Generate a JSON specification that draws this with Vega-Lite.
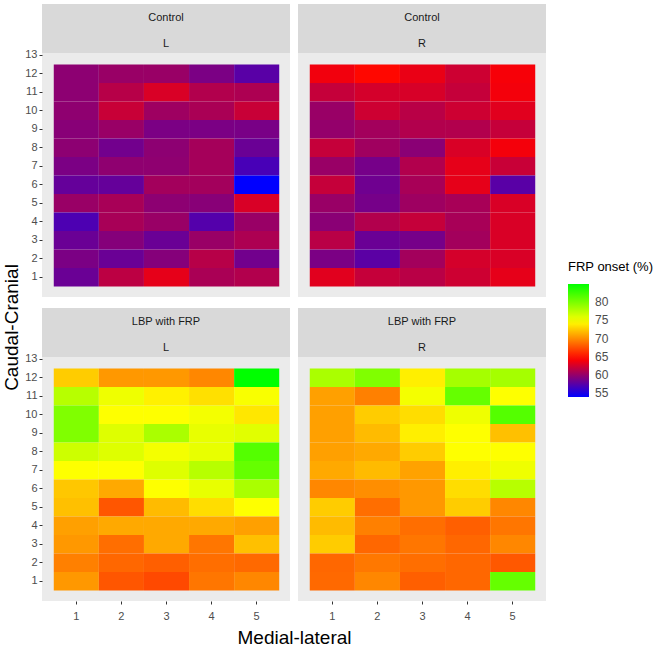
{
  "$schema": "https://vega.github.io/schema/vega-lite/v6.json",
  "padding": {"left": 2, "top": 4, "right": 0, "bottom": 0},
  "background": "white",
  "config": {
    "font": "Liberation Sans",
    "view": {"stroke": null},
    "axis": {"domain": false, "gridColor": "white", "tickColor": "#333333", "labelColor": "#4D4D4D", "labelFontSize": 11, "labelFont": "Liberation Sans", "labelOverlap": false, "titleFont": "Liberation Sans", "titleFontWeight": "normal", "titleColor": "#000000", "titleFontSize": 19}
  },
  "datasets": {
    "tiles": [
      {"group":"Control","side":"L","ml":1,"cc":12,"frp":59.7},{"group":"Control","side":"L","ml":2,"cc":12,"frp":60.2},{"group":"Control","side":"L","ml":3,"cc":12,"frp":60.2},{"group":"Control","side":"L","ml":4,"cc":12,"frp":59.0},{"group":"Control","side":"L","ml":5,"cc":12,"frp":57.6},
      {"group":"Control","side":"L","ml":1,"cc":11,"frp":59.7},{"group":"Control","side":"L","ml":2,"cc":11,"frp":61.4},{"group":"Control","side":"L","ml":3,"cc":11,"frp":62.8},{"group":"Control","side":"L","ml":4,"cc":11,"frp":61.2},{"group":"Control","side":"L","ml":5,"cc":11,"frp":61.0},
      {"group":"Control","side":"L","ml":1,"cc":10,"frp":59.8},{"group":"Control","side":"L","ml":2,"cc":10,"frp":62.1},{"group":"Control","side":"L","ml":3,"cc":10,"frp":60.4},{"group":"Control","side":"L","ml":4,"cc":10,"frp":60.9},{"group":"Control","side":"L","ml":5,"cc":10,"frp":62.1},
      {"group":"Control","side":"L","ml":1,"cc":9,"frp":59.5},{"group":"Control","side":"L","ml":2,"cc":9,"frp":60.2},{"group":"Control","side":"L","ml":3,"cc":9,"frp":59.0},{"group":"Control","side":"L","ml":4,"cc":9,"frp":59.0},{"group":"Control","side":"L","ml":5,"cc":9,"frp":58.9},
      {"group":"Control","side":"L","ml":1,"cc":8,"frp":59.7},{"group":"Control","side":"L","ml":2,"cc":8,"frp":58.6},{"group":"Control","side":"L","ml":3,"cc":8,"frp":59.7},{"group":"Control","side":"L","ml":4,"cc":8,"frp":60.7},{"group":"Control","side":"L","ml":5,"cc":8,"frp":58.3},
      {"group":"Control","side":"L","ml":1,"cc":7,"frp":59.0},{"group":"Control","side":"L","ml":2,"cc":7,"frp":59.8},{"group":"Control","side":"L","ml":3,"cc":7,"frp":59.8},{"group":"Control","side":"L","ml":4,"cc":7,"frp":60.7},{"group":"Control","side":"L","ml":5,"cc":7,"frp":56.9},
      {"group":"Control","side":"L","ml":1,"cc":6,"frp":58.1},{"group":"Control","side":"L","ml":2,"cc":6,"frp":58.1},{"group":"Control","side":"L","ml":3,"cc":6,"frp":60.6},{"group":"Control","side":"L","ml":4,"cc":6,"frp":60.6},{"group":"Control","side":"L","ml":5,"cc":6,"frp":54.0},
      {"group":"Control","side":"L","ml":1,"cc":5,"frp":60.2},{"group":"Control","side":"L","ml":2,"cc":5,"frp":60.8},{"group":"Control","side":"L","ml":3,"cc":5,"frp":59.7},{"group":"Control","side":"L","ml":4,"cc":5,"frp":59.5},{"group":"Control","side":"L","ml":5,"cc":5,"frp":62.8},
      {"group":"Control","side":"L","ml":1,"cc":4,"frp":57.1},{"group":"Control","side":"L","ml":2,"cc":4,"frp":60.8},{"group":"Control","side":"L","ml":3,"cc":4,"frp":60.2},{"group":"Control","side":"L","ml":4,"cc":4,"frp":57.4},{"group":"Control","side":"L","ml":5,"cc":4,"frp":60.2},
      {"group":"Control","side":"L","ml":1,"cc":3,"frp":58.3},{"group":"Control","side":"L","ml":2,"cc":3,"frp":59.4},{"group":"Control","side":"L","ml":3,"cc":3,"frp":58.3},{"group":"Control","side":"L","ml":4,"cc":3,"frp":60.2},{"group":"Control","side":"L","ml":5,"cc":3,"frp":61.0},
      {"group":"Control","side":"L","ml":1,"cc":2,"frp":59.0},{"group":"Control","side":"L","ml":2,"cc":2,"frp":58.3},{"group":"Control","side":"L","ml":3,"cc":2,"frp":59.4},{"group":"Control","side":"L","ml":4,"cc":2,"frp":61.4},{"group":"Control","side":"L","ml":5,"cc":2,"frp":58.6},
      {"group":"Control","side":"L","ml":1,"cc":1,"frp":58.3},{"group":"Control","side":"L","ml":2,"cc":1,"frp":61.6},{"group":"Control","side":"L","ml":3,"cc":1,"frp":63.3},{"group":"Control","side":"L","ml":4,"cc":1,"frp":60.9},{"group":"Control","side":"L","ml":5,"cc":1,"frp":61.2},

      {"group":"Control","side":"R","ml":1,"cc":12,"frp":63.8},{"group":"Control","side":"R","ml":2,"cc":12,"frp":64.6},{"group":"Control","side":"R","ml":3,"cc":12,"frp":63.5},{"group":"Control","side":"R","ml":4,"cc":12,"frp":62.3},{"group":"Control","side":"R","ml":5,"cc":12,"frp":64.0},
      {"group":"Control","side":"R","ml":1,"cc":11,"frp":62.0},{"group":"Control","side":"R","ml":2,"cc":11,"frp":62.6},{"group":"Control","side":"R","ml":3,"cc":11,"frp":62.7},{"group":"Control","side":"R","ml":4,"cc":11,"frp":62.0},{"group":"Control","side":"R","ml":5,"cc":11,"frp":63.9},
      {"group":"Control","side":"R","ml":1,"cc":10,"frp":60.2},{"group":"Control","side":"R","ml":2,"cc":10,"frp":62.3},{"group":"Control","side":"R","ml":3,"cc":10,"frp":61.5},{"group":"Control","side":"R","ml":4,"cc":10,"frp":62.3},{"group":"Control","side":"R","ml":5,"cc":10,"frp":63.1},
      {"group":"Control","side":"R","ml":1,"cc":9,"frp":60.0},{"group":"Control","side":"R","ml":2,"cc":9,"frp":60.6},{"group":"Control","side":"R","ml":3,"cc":9,"frp":61.2},{"group":"Control","side":"R","ml":4,"cc":9,"frp":61.2},{"group":"Control","side":"R","ml":5,"cc":9,"frp":62.0},
      {"group":"Control","side":"R","ml":1,"cc":8,"frp":62.0},{"group":"Control","side":"R","ml":2,"cc":8,"frp":60.5},{"group":"Control","side":"R","ml":3,"cc":8,"frp":59.6},{"group":"Control","side":"R","ml":4,"cc":8,"frp":62.8},{"group":"Control","side":"R","ml":5,"cc":8,"frp":63.9},
      {"group":"Control","side":"R","ml":1,"cc":7,"frp":60.2},{"group":"Control","side":"R","ml":2,"cc":7,"frp":58.8},{"group":"Control","side":"R","ml":3,"cc":7,"frp":61.2},{"group":"Control","side":"R","ml":4,"cc":7,"frp":63.3},{"group":"Control","side":"R","ml":5,"cc":7,"frp":62.1},
      {"group":"Control","side":"R","ml":1,"cc":6,"frp":62.0},{"group":"Control","side":"R","ml":2,"cc":6,"frp":58.5},{"group":"Control","side":"R","ml":3,"cc":6,"frp":60.8},{"group":"Control","side":"R","ml":4,"cc":6,"frp":63.3},{"group":"Control","side":"R","ml":5,"cc":6,"frp":57.6},
      {"group":"Control","side":"R","ml":1,"cc":5,"frp":60.2},{"group":"Control","side":"R","ml":2,"cc":5,"frp":58.8},{"group":"Control","side":"R","ml":3,"cc":5,"frp":60.4},{"group":"Control","side":"R","ml":4,"cc":5,"frp":60.8},{"group":"Control","side":"R","ml":5,"cc":5,"frp":62.8},
      {"group":"Control","side":"R","ml":1,"cc":4,"frp":59.6},{"group":"Control","side":"R","ml":2,"cc":4,"frp":61.2},{"group":"Control","side":"R","ml":3,"cc":4,"frp":62.0},{"group":"Control","side":"R","ml":4,"cc":4,"frp":60.8},{"group":"Control","side":"R","ml":5,"cc":4,"frp":62.8},
      {"group":"Control","side":"R","ml":1,"cc":3,"frp":61.5},{"group":"Control","side":"R","ml":2,"cc":3,"frp":58.3},{"group":"Control","side":"R","ml":3,"cc":3,"frp":58.8},{"group":"Control","side":"R","ml":4,"cc":3,"frp":60.6},{"group":"Control","side":"R","ml":5,"cc":3,"frp":62.8},
      {"group":"Control","side":"R","ml":1,"cc":2,"frp":59.0},{"group":"Control","side":"R","ml":2,"cc":2,"frp":57.7},{"group":"Control","side":"R","ml":3,"cc":2,"frp":60.6},{"group":"Control","side":"R","ml":4,"cc":2,"frp":62.6},{"group":"Control","side":"R","ml":5,"cc":2,"frp":62.8},
      {"group":"Control","side":"R","ml":1,"cc":1,"frp":63.1},{"group":"Control","side":"R","ml":2,"cc":1,"frp":62.0},{"group":"Control","side":"R","ml":3,"cc":1,"frp":61.5},{"group":"Control","side":"R","ml":4,"cc":1,"frp":62.3},{"group":"Control","side":"R","ml":5,"cc":1,"frp":63.3},

      {"group":"LBP with FRP","side":"L","ml":1,"cc":12,"frp":72.6},{"group":"LBP with FRP","side":"L","ml":2,"cc":12,"frp":70.5},{"group":"LBP with FRP","side":"L","ml":3,"cc":12,"frp":70.5},{"group":"LBP with FRP","side":"L","ml":4,"cc":12,"frp":69.8},{"group":"LBP with FRP","side":"L","ml":5,"cc":12,"frp":85.0},
      {"group":"LBP with FRP","side":"L","ml":1,"cc":11,"frp":77.6},{"group":"LBP with FRP","side":"L","ml":2,"cc":11,"frp":75.3},{"group":"LBP with FRP","side":"L","ml":3,"cc":11,"frp":74.1},{"group":"LBP with FRP","side":"L","ml":4,"cc":11,"frp":73.4},{"group":"LBP with FRP","side":"L","ml":5,"cc":11,"frp":74.9},
      {"group":"LBP with FRP","side":"L","ml":1,"cc":10,"frp":79.8},{"group":"LBP with FRP","side":"L","ml":2,"cc":10,"frp":74.7},{"group":"LBP with FRP","side":"L","ml":3,"cc":10,"frp":74.7},{"group":"LBP with FRP","side":"L","ml":4,"cc":10,"frp":75.1},{"group":"LBP with FRP","side":"L","ml":5,"cc":10,"frp":73.7},
      {"group":"LBP with FRP","side":"L","ml":1,"cc":9,"frp":79.8},{"group":"LBP with FRP","side":"L","ml":2,"cc":9,"frp":76.0},{"group":"LBP with FRP","side":"L","ml":3,"cc":9,"frp":78.1},{"group":"LBP with FRP","side":"L","ml":4,"cc":9,"frp":75.6},{"group":"LBP with FRP","side":"L","ml":5,"cc":9,"frp":75.9},
      {"group":"LBP with FRP","side":"L","ml":1,"cc":8,"frp":76.7},{"group":"LBP with FRP","side":"L","ml":2,"cc":8,"frp":76.0},{"group":"LBP with FRP","side":"L","ml":3,"cc":8,"frp":75.1},{"group":"LBP with FRP","side":"L","ml":4,"cc":8,"frp":75.6},{"group":"LBP with FRP","side":"L","ml":5,"cc":8,"frp":81.6},
      {"group":"LBP with FRP","side":"L","ml":1,"cc":7,"frp":74.7},{"group":"LBP with FRP","side":"L","ml":2,"cc":7,"frp":74.7},{"group":"LBP with FRP","side":"L","ml":3,"cc":7,"frp":76.0},{"group":"LBP with FRP","side":"L","ml":4,"cc":7,"frp":77.6},{"group":"LBP with FRP","side":"L","ml":5,"cc":7,"frp":80.9},
      {"group":"LBP with FRP","side":"L","ml":1,"cc":6,"frp":72.4},{"group":"LBP with FRP","side":"L","ml":2,"cc":6,"frp":71.2},{"group":"LBP with FRP","side":"L","ml":3,"cc":6,"frp":74.7},{"group":"LBP with FRP","side":"L","ml":4,"cc":6,"frp":75.6},{"group":"LBP with FRP","side":"L","ml":5,"cc":6,"frp":78.1},
      {"group":"LBP with FRP","side":"L","ml":1,"cc":5,"frp":72.1},{"group":"LBP with FRP","side":"L","ml":2,"cc":5,"frp":67.8},{"group":"LBP with FRP","side":"L","ml":3,"cc":5,"frp":71.9},{"group":"LBP with FRP","side":"L","ml":4,"cc":5,"frp":73.3},{"group":"LBP with FRP","side":"L","ml":5,"cc":5,"frp":74.7},
      {"group":"LBP with FRP","side":"L","ml":1,"cc":4,"frp":70.8},{"group":"LBP with FRP","side":"L","ml":2,"cc":4,"frp":71.2},{"group":"LBP with FRP","side":"L","ml":3,"cc":4,"frp":71.2},{"group":"LBP with FRP","side":"L","ml":4,"cc":4,"frp":71.2},{"group":"LBP with FRP","side":"L","ml":5,"cc":4,"frp":70.8},
      {"group":"LBP with FRP","side":"L","ml":1,"cc":3,"frp":70.5},{"group":"LBP with FRP","side":"L","ml":2,"cc":3,"frp":68.8},{"group":"LBP with FRP","side":"L","ml":3,"cc":3,"frp":71.2},{"group":"LBP with FRP","side":"L","ml":4,"cc":3,"frp":69.1},{"group":"LBP with FRP","side":"L","ml":5,"cc":3,"frp":72.1},
      {"group":"LBP with FRP","side":"L","ml":1,"cc":2,"frp":69.5},{"group":"LBP with FRP","side":"L","ml":2,"cc":2,"frp":68.5},{"group":"LBP with FRP","side":"L","ml":3,"cc":2,"frp":68.2},{"group":"LBP with FRP","side":"L","ml":4,"cc":2,"frp":68.8},{"group":"LBP with FRP","side":"L","ml":5,"cc":2,"frp":68.6},
      {"group":"LBP with FRP","side":"L","ml":1,"cc":1,"frp":70.5},{"group":"LBP with FRP","side":"L","ml":2,"cc":1,"frp":67.8},{"group":"LBP with FRP","side":"L","ml":3,"cc":1,"frp":67.3},{"group":"LBP with FRP","side":"L","ml":4,"cc":1,"frp":69.1},{"group":"LBP with FRP","side":"L","ml":5,"cc":1,"frp":69.8},

      {"group":"LBP with FRP","side":"R","ml":1,"cc":12,"frp":78.1},{"group":"LBP with FRP","side":"R","ml":2,"cc":12,"frp":79.8},{"group":"LBP with FRP","side":"R","ml":3,"cc":12,"frp":74.0},{"group":"LBP with FRP","side":"R","ml":4,"cc":12,"frp":78.3},{"group":"LBP with FRP","side":"R","ml":5,"cc":12,"frp":78.3},
      {"group":"LBP with FRP","side":"R","ml":1,"cc":11,"frp":70.8},{"group":"LBP with FRP","side":"R","ml":2,"cc":11,"frp":69.5},{"group":"LBP with FRP","side":"R","ml":3,"cc":11,"frp":75.1},{"group":"LBP with FRP","side":"R","ml":4,"cc":11,"frp":80.9},{"group":"LBP with FRP","side":"R","ml":5,"cc":11,"frp":74.7},
      {"group":"LBP with FRP","side":"R","ml":1,"cc":10,"frp":70.8},{"group":"LBP with FRP","side":"R","ml":2,"cc":10,"frp":72.6},{"group":"LBP with FRP","side":"R","ml":3,"cc":10,"frp":73.3},{"group":"LBP with FRP","side":"R","ml":4,"cc":10,"frp":75.3},{"group":"LBP with FRP","side":"R","ml":5,"cc":10,"frp":81.6},
      {"group":"LBP with FRP","side":"R","ml":1,"cc":9,"frp":70.8},{"group":"LBP with FRP","side":"R","ml":2,"cc":9,"frp":71.9},{"group":"LBP with FRP","side":"R","ml":3,"cc":9,"frp":74.0},{"group":"LBP with FRP","side":"R","ml":4,"cc":9,"frp":74.7},{"group":"LBP with FRP","side":"R","ml":5,"cc":9,"frp":72.1},
      {"group":"LBP with FRP","side":"R","ml":1,"cc":8,"frp":70.8},{"group":"LBP with FRP","side":"R","ml":2,"cc":8,"frp":71.2},{"group":"LBP with FRP","side":"R","ml":3,"cc":8,"frp":72.6},{"group":"LBP with FRP","side":"R","ml":4,"cc":8,"frp":74.7},{"group":"LBP with FRP","side":"R","ml":5,"cc":8,"frp":74.7},
      {"group":"LBP with FRP","side":"R","ml":1,"cc":7,"frp":71.2},{"group":"LBP with FRP","side":"R","ml":2,"cc":7,"frp":71.9},{"group":"LBP with FRP","side":"R","ml":3,"cc":7,"frp":70.9},{"group":"LBP with FRP","side":"R","ml":4,"cc":7,"frp":74.0},{"group":"LBP with FRP","side":"R","ml":5,"cc":7,"frp":75.3},
      {"group":"LBP with FRP","side":"R","ml":1,"cc":6,"frp":69.8},{"group":"LBP with FRP","side":"R","ml":2,"cc":6,"frp":70.1},{"group":"LBP with FRP","side":"R","ml":3,"cc":6,"frp":70.5},{"group":"LBP with FRP","side":"R","ml":4,"cc":6,"frp":73.3},{"group":"LBP with FRP","side":"R","ml":5,"cc":6,"frp":77.6},
      {"group":"LBP with FRP","side":"R","ml":1,"cc":5,"frp":72.6},{"group":"LBP with FRP","side":"R","ml":2,"cc":5,"frp":68.8},{"group":"LBP with FRP","side":"R","ml":3,"cc":5,"frp":70.5},{"group":"LBP with FRP","side":"R","ml":4,"cc":5,"frp":72.6},{"group":"LBP with FRP","side":"R","ml":5,"cc":5,"frp":69.8},
      {"group":"LBP with FRP","side":"R","ml":1,"cc":4,"frp":71.9},{"group":"LBP with FRP","side":"R","ml":2,"cc":4,"frp":69.5},{"group":"LBP with FRP","side":"R","ml":3,"cc":4,"frp":68.8},{"group":"LBP with FRP","side":"R","ml":4,"cc":4,"frp":68.2},{"group":"LBP with FRP","side":"R","ml":5,"cc":4,"frp":69.1},
      {"group":"LBP with FRP","side":"R","ml":1,"cc":3,"frp":72.6},{"group":"LBP with FRP","side":"R","ml":2,"cc":3,"frp":68.5},{"group":"LBP with FRP","side":"R","ml":3,"cc":3,"frp":69.1},{"group":"LBP with FRP","side":"R","ml":4,"cc":3,"frp":68.5},{"group":"LBP with FRP","side":"R","ml":5,"cc":3,"frp":69.8},
      {"group":"LBP with FRP","side":"R","ml":1,"cc":2,"frp":68.5},{"group":"LBP with FRP","side":"R","ml":2,"cc":2,"frp":69.2},{"group":"LBP with FRP","side":"R","ml":3,"cc":2,"frp":68.8},{"group":"LBP with FRP","side":"R","ml":4,"cc":2,"frp":68.5},{"group":"LBP with FRP","side":"R","ml":5,"cc":2,"frp":67.9},
      {"group":"LBP with FRP","side":"R","ml":1,"cc":1,"frp":68.6},{"group":"LBP with FRP","side":"R","ml":2,"cc":1,"frp":69.8},{"group":"LBP with FRP","side":"R","ml":3,"cc":1,"frp":68.2},{"group":"LBP with FRP","side":"R","ml":4,"cc":1,"frp":68.5},{"group":"LBP with FRP","side":"R","ml":5,"cc":1,"frp":80.9}
    ]
  },
  "bounds": "flush",
  "columns": 2,
  "spacing": {"row": 11, "column": 8},
  "concat": [
    {
      "width": 248, "height": 293,
      "resolve": {"axis": {"x": "independent", "y": "independent"}},
      "layer": [
        {
          "data": {"name": "tiles"},
          "transform": [{"filter": "datum.group === 'Control' && datum.side === 'L'"}],
          "mark": {"type": "rect", "binSpacing": 0},
          "encoding": {
            "x": {"field": "ml", "type": "quantitative", "bin": {"step": 1, "extent": [0.5, 5.5], "nice": false}, "scale": {"domain": [0.25, 5.75], "nice": false, "zero": false},
              "axis": {"title": null, "values": [0.5,1,1.5,2,2.5,3,3.5,4,4.5,5,5.5], "labels": false, "ticks": false, "gridWidth": {"condition": {"test": "datum.value % 1 === 0", "value": 1.1}, "value": 0.5}}},
            "y": {"field": "cc", "type": "quantitative", "bin": {"step": 1, "extent": [0.5, 12.5], "nice": false}, "scale": {"domain": [-0.1, 15.751], "nice": false, "zero": false},
              "axis": {"title": "Caudal-Cranial", "titleY": 323, "titlePadding": 3, "values": [0.5,1,1.5,2,2.5,3,3.5,4,4.5,5,5.5,6,6.5,7,7.5,8,8.5,9,9.5,10,10.5,11,11.5,12,12.5,13], "labelExpr": "datum.value % 1 === 0 ? format(datum.value, 'd') : ''", "tickSize": 3, "labelPadding": 2, "tickOpacity": {"condition": {"test": "datum.value % 1 !== 0", "value": 0}, "value": 1}, "gridWidth": {"condition": {"test": "datum.value % 1 === 0", "value": 1.1}, "value": 0.5}}},
            "color": {"field": "frp", "type": "quantitative", "scale": {"domain": [54, 64.333, 74.667, 85], "range": ["#0000FF", "#FF0000", "#FFFF00", "#00FF00"], "interpolate": "rgb"},
              "legend": {"title": "FRP onset (%)", "orient": "none", "legendX": 526, "legendY": 257, "values": [55,60,65,70,75,80], "gradientLength": 113, "gradientThickness": 21, "titlePadding": 10, "labelOffset": 6, "titleFontSize": 13, "titleFontWeight": "normal", "titleColor": "#000000", "labelFontSize": 12, "labelColor": "#4D4D4D", "gradientStrokeWidth": 0}}
          }
        },
        {
          "data": {"values": [{"top": "Control", "sub": "L"}]},
          "mark": {"type": "rect", "color": "#D9D9D9"},
          "encoding": {
            "x": {"datum": 0.25, "type": "quantitative", "scale": {"domain": [0.25, 5.75], "nice": false, "zero": false}, "axis": null},
            "x2": {"datum": 5.75},
            "y": {"datum": 13.1, "type": "quantitative", "scale": {"domain": [-0.1, 15.751], "nice": false, "zero": false}, "axis": null},
            "y2": {"datum": 15.751}
          }
        },
        {
          "data": {"values": [{"top": "Control", "sub": "L"}]},
          "mark": {"type": "text", "fontSize": 11, "color": "#1A1A1A"},
          "encoding": {
            "x": {"datum": 3, "type": "quantitative", "axis": null},
            "y": {"datum": 15.0, "type": "quantitative", "axis": null},
            "text": {"field": "top"}
          }
        },
        {
          "data": {"values": [{"top": "Control", "sub": "L"}]},
          "mark": {"type": "text", "fontSize": 11, "color": "#1A1A1A"},
          "encoding": {
            "x": {"datum": 3, "type": "quantitative", "axis": null},
            "y": {"datum": 13.6, "type": "quantitative", "axis": null},
            "text": {"field": "sub"}
          }
        }
      ],
      "view": {"fill": "#EBEBEB", "stroke": null}
    },
    {
      "width": 248, "height": 293,
      "resolve": {"axis": {"x": "independent", "y": "independent"}},
      "layer": [
        {
          "data": {"name": "tiles"},
          "transform": [{"filter": "datum.group === 'Control' && datum.side === 'R'"}],
          "mark": {"type": "rect", "binSpacing": 0},
          "encoding": {
            "x": {"field": "ml", "type": "quantitative", "bin": {"step": 1, "extent": [0.5, 5.5], "nice": false}, "scale": {"domain": [0.25, 5.75], "nice": false, "zero": false},
              "axis": {"title": null, "values": [0.5,1,1.5,2,2.5,3,3.5,4,4.5,5,5.5], "labels": false, "ticks": false, "gridWidth": {"condition": {"test": "datum.value % 1 === 0", "value": 1.1}, "value": 0.5}}},
            "y": {"field": "cc", "type": "quantitative", "bin": {"step": 1, "extent": [0.5, 12.5], "nice": false}, "scale": {"domain": [-0.1, 15.751], "nice": false, "zero": false},
              "axis": {"title": null, "values": [0.5,1,1.5,2,2.5,3,3.5,4,4.5,5,5.5,6,6.5,7,7.5,8,8.5,9,9.5,10,10.5,11,11.5,12,12.5,13], "labels": false, "ticks": false, "gridWidth": {"condition": {"test": "datum.value % 1 === 0", "value": 1.1}, "value": 0.5}}},
            "color": {"field": "frp", "type": "quantitative", "scale": {"domain": [54, 64.333, 74.667, 85], "range": ["#0000FF", "#FF0000", "#FFFF00", "#00FF00"], "interpolate": "rgb"},
              "legend": {"title": "FRP onset (%)", "orient": "none", "legendX": 526, "legendY": 257, "values": [55,60,65,70,75,80], "gradientLength": 113, "gradientThickness": 21, "titlePadding": 10, "labelOffset": 6, "titleFontSize": 13, "titleFontWeight": "normal", "titleColor": "#000000", "labelFontSize": 12, "labelColor": "#4D4D4D", "gradientStrokeWidth": 0}}
          }
        },
        {
          "data": {"values": [{"top": "Control", "sub": "R"}]},
          "mark": {"type": "rect", "color": "#D9D9D9"},
          "encoding": {
            "x": {"datum": 0.25, "type": "quantitative", "scale": {"domain": [0.25, 5.75], "nice": false, "zero": false}, "axis": null},
            "x2": {"datum": 5.75},
            "y": {"datum": 13.1, "type": "quantitative", "scale": {"domain": [-0.1, 15.751], "nice": false, "zero": false}, "axis": null},
            "y2": {"datum": 15.751}
          }
        },
        {
          "data": {"values": [{"top": "Control", "sub": "R"}]},
          "mark": {"type": "text", "fontSize": 11, "color": "#1A1A1A"},
          "encoding": {
            "x": {"datum": 3, "type": "quantitative", "axis": null},
            "y": {"datum": 15.0, "type": "quantitative", "axis": null},
            "text": {"field": "top"}
          }
        },
        {
          "data": {"values": [{"top": "Control", "sub": "R"}]},
          "mark": {"type": "text", "fontSize": 11, "color": "#1A1A1A"},
          "encoding": {
            "x": {"datum": 3, "type": "quantitative", "axis": null},
            "y": {"datum": 13.6, "type": "quantitative", "axis": null},
            "text": {"field": "sub"}
          }
        }
      ],
      "view": {"fill": "#EBEBEB", "stroke": null}
    },
    {
      "width": 248, "height": 293,
      "resolve": {"axis": {"x": "independent", "y": "independent"}},
      "layer": [
        {
          "data": {"name": "tiles"},
          "transform": [{"filter": "datum.group === 'LBP with FRP' && datum.side === 'L'"}],
          "mark": {"type": "rect", "binSpacing": 0},
          "encoding": {
            "x": {"field": "ml", "type": "quantitative", "bin": {"step": 1, "extent": [0.5, 5.5], "nice": false}, "scale": {"domain": [0.25, 5.75], "nice": false, "zero": false},
              "axis": {"title": "Medial-lateral", "titleX": 252, "titlePadding": 7, "values": [0.5,1,1.5,2,2.5,3,3.5,4,4.5,5,5.5], "labelExpr": "datum.value % 1 === 0 ? format(datum.value, 'd') : ''", "tickSize": 3, "labelPadding": 6, "tickOpacity": {"condition": {"test": "datum.value % 1 !== 0", "value": 0}, "value": 1}, "gridWidth": {"condition": {"test": "datum.value % 1 === 0", "value": 1.1}, "value": 0.5}}},
            "y": {"field": "cc", "type": "quantitative", "bin": {"step": 1, "extent": [0.5, 12.5], "nice": false}, "scale": {"domain": [-0.1, 15.751], "nice": false, "zero": false},
              "axis": {"title": null, "values": [0.5,1,1.5,2,2.5,3,3.5,4,4.5,5,5.5,6,6.5,7,7.5,8,8.5,9,9.5,10,10.5,11,11.5,12,12.5,13], "labelExpr": "datum.value % 1 === 0 ? format(datum.value, 'd') : ''", "tickSize": 3, "labelPadding": 2, "tickOpacity": {"condition": {"test": "datum.value % 1 !== 0", "value": 0}, "value": 1}, "gridWidth": {"condition": {"test": "datum.value % 1 === 0", "value": 1.1}, "value": 0.5}}},
            "color": {"field": "frp", "type": "quantitative", "scale": {"domain": [54, 64.333, 74.667, 85], "range": ["#0000FF", "#FF0000", "#FFFF00", "#00FF00"], "interpolate": "rgb"},
              "legend": {"title": "FRP onset (%)", "orient": "none", "legendX": 526, "legendY": 257, "values": [55,60,65,70,75,80], "gradientLength": 113, "gradientThickness": 21, "titlePadding": 10, "labelOffset": 6, "titleFontSize": 13, "titleFontWeight": "normal", "titleColor": "#000000", "labelFontSize": 12, "labelColor": "#4D4D4D", "gradientStrokeWidth": 0}}
          }
        },
        {
          "data": {"values": [{"top": "LBP with FRP", "sub": "L"}]},
          "mark": {"type": "rect", "color": "#D9D9D9"},
          "encoding": {
            "x": {"datum": 0.25, "type": "quantitative", "scale": {"domain": [0.25, 5.75], "nice": false, "zero": false}, "axis": null},
            "x2": {"datum": 5.75},
            "y": {"datum": 13.1, "type": "quantitative", "scale": {"domain": [-0.1, 15.751], "nice": false, "zero": false}, "axis": null},
            "y2": {"datum": 15.751}
          }
        },
        {
          "data": {"values": [{"top": "LBP with FRP", "sub": "L"}]},
          "mark": {"type": "text", "fontSize": 11, "color": "#1A1A1A"},
          "encoding": {
            "x": {"datum": 3, "type": "quantitative", "axis": null},
            "y": {"datum": 15.0, "type": "quantitative", "axis": null},
            "text": {"field": "top"}
          }
        },
        {
          "data": {"values": [{"top": "LBP with FRP", "sub": "L"}]},
          "mark": {"type": "text", "fontSize": 11, "color": "#1A1A1A"},
          "encoding": {
            "x": {"datum": 3, "type": "quantitative", "axis": null},
            "y": {"datum": 13.6, "type": "quantitative", "axis": null},
            "text": {"field": "sub"}
          }
        }
      ],
      "view": {"fill": "#EBEBEB", "stroke": null}
    },
    {
      "width": 248, "height": 293,
      "resolve": {"axis": {"x": "independent", "y": "independent"}},
      "layer": [
        {
          "data": {"name": "tiles"},
          "transform": [{"filter": "datum.group === 'LBP with FRP' && datum.side === 'R'"}],
          "mark": {"type": "rect", "binSpacing": 0},
          "encoding": {
            "x": {"field": "ml", "type": "quantitative", "bin": {"step": 1, "extent": [0.5, 5.5], "nice": false}, "scale": {"domain": [0.25, 5.75], "nice": false, "zero": false},
              "axis": {"title": null, "values": [0.5,1,1.5,2,2.5,3,3.5,4,4.5,5,5.5], "labelExpr": "datum.value % 1 === 0 ? format(datum.value, 'd') : ''", "tickSize": 3, "labelPadding": 6, "tickOpacity": {"condition": {"test": "datum.value % 1 !== 0", "value": 0}, "value": 1}, "gridWidth": {"condition": {"test": "datum.value % 1 === 0", "value": 1.1}, "value": 0.5}}},
            "y": {"field": "cc", "type": "quantitative", "bin": {"step": 1, "extent": [0.5, 12.5], "nice": false}, "scale": {"domain": [-0.1, 15.751], "nice": false, "zero": false},
              "axis": {"title": null, "values": [0.5,1,1.5,2,2.5,3,3.5,4,4.5,5,5.5,6,6.5,7,7.5,8,8.5,9,9.5,10,10.5,11,11.5,12,12.5,13], "labels": false, "ticks": false, "gridWidth": {"condition": {"test": "datum.value % 1 === 0", "value": 1.1}, "value": 0.5}}},
            "color": {"field": "frp", "type": "quantitative", "scale": {"domain": [54, 64.333, 74.667, 85], "range": ["#0000FF", "#FF0000", "#FFFF00", "#00FF00"], "interpolate": "rgb"},
              "legend": {"title": "FRP onset (%)", "orient": "none", "legendX": 526, "legendY": 257, "values": [55,60,65,70,75,80], "gradientLength": 113, "gradientThickness": 21, "titlePadding": 10, "labelOffset": 6, "titleFontSize": 13, "titleFontWeight": "normal", "titleColor": "#000000", "labelFontSize": 12, "labelColor": "#4D4D4D", "gradientStrokeWidth": 0}}
          }
        },
        {
          "data": {"values": [{"top": "LBP with FRP", "sub": "R"}]},
          "mark": {"type": "rect", "color": "#D9D9D9"},
          "encoding": {
            "x": {"datum": 0.25, "type": "quantitative", "scale": {"domain": [0.25, 5.75], "nice": false, "zero": false}, "axis": null},
            "x2": {"datum": 5.75},
            "y": {"datum": 13.1, "type": "quantitative", "scale": {"domain": [-0.1, 15.751], "nice": false, "zero": false}, "axis": null},
            "y2": {"datum": 15.751}
          }
        },
        {
          "data": {"values": [{"top": "LBP with FRP", "sub": "R"}]},
          "mark": {"type": "text", "fontSize": 11, "color": "#1A1A1A"},
          "encoding": {
            "x": {"datum": 3, "type": "quantitative", "axis": null},
            "y": {"datum": 15.0, "type": "quantitative", "axis": null},
            "text": {"field": "top"}
          }
        },
        {
          "data": {"values": [{"top": "LBP with FRP", "sub": "R"}]},
          "mark": {"type": "text", "fontSize": 11, "color": "#1A1A1A"},
          "encoding": {
            "x": {"datum": 3, "type": "quantitative", "axis": null},
            "y": {"datum": 13.6, "type": "quantitative", "axis": null},
            "text": {"field": "sub"}
          }
        }
      ],
      "view": {"fill": "#EBEBEB", "stroke": null}
    }
  ]
}
